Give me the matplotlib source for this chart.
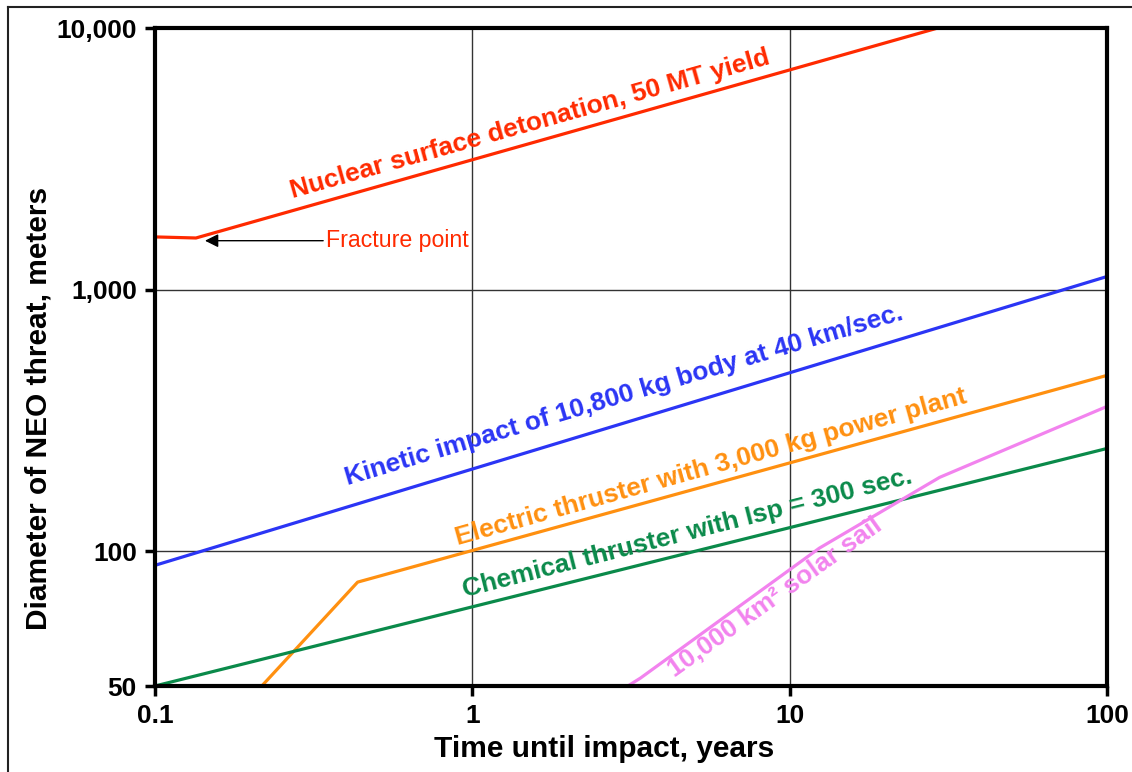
import numpy as np
import matplotlib
matplotlib.use("Agg")
import matplotlib.pyplot as plt
from matplotlib.lines import Line2D

plt.rcParams['font.family'] = ['Liberation Sans', 'DejaVu Sans']

# data (years, meters)
nuc_t = [0.1, 0.1346, 29.3]
nuc_d = [1590, 1575, 10000]
kin_t = [0.1, 100]
kin_d = [93, 1122]
ele_t = [0.217, 0.435, 100]
ele_d = [50, 85.3, 470]
chem_t = [0.1, 100]
chem_d = [50, 247]
sail_t = [3.09, 3.39, 12.4, 29.7, 100]
sail_d = [50, 52.1, 102.7, 191.6, 357.6]

xticks = [0.1, 1, 10, 100]
xtick_labels = ["0.1", "1", "10", "100"]
yticks = [50, 100, 1000, 10000]
ytick_labels = ["50", "100", "1,000", "10,000"]

# the y axis in the original is log above 100 but stretched between 50 and 100
K = (135 / 262) / np.log10(2)


def fwd(y):
    y = np.clip(np.asarray(y, dtype=float), 1e-3, None)
    t = np.log10(y)
    return np.where(t >= 2, t, 2 - (2 - t) * K)


def inv(t):
    t = np.asarray(t, dtype=float)
    return np.where(t >= 2, 10 ** t, 10 ** (2 - (2 - t) / K))


fig = plt.figure(figsize=(11.32, 7.72), dpi=100)
ax = fig.add_axes([155 / 1132, 1 - 686 / 772, 952 / 1132, 658 / 772])

red = '#FF2A00'
blue = '#2B35F5'
orange = '#FF9010'
green = '#0A8A4A'
pink = '#F283EE'

lw = 2.3
ax.plot(nuc_t, nuc_d, color=red, lw=lw, solid_capstyle='butt', zorder=3)
ax.plot(kin_t, kin_d, color=blue, lw=lw, solid_capstyle='butt', zorder=3)
ax.plot(ele_t, ele_d, color=orange, lw=lw, solid_capstyle='butt', zorder=3)
ax.plot(chem_t, chem_d, color=green, lw=lw, solid_capstyle='butt', zorder=3)
ax.plot(sail_t, sail_d, color=pink, lw=lw, solid_capstyle='butt', zorder=3)

ax.set_xscale('log')
ax.set_yscale('function', functions=(fwd, inv))
ax.set_xlim(0.1, 100)
ax.set_ylim(50, 10000)
ax.set_xticks(xticks, xtick_labels)
ax.set_yticks(yticks, ytick_labels)
ax.xaxis.set_minor_locator(matplotlib.ticker.NullLocator())
ax.yaxis.set_minor_locator(matplotlib.ticker.NullLocator())

ax.grid(True, color='#333333', lw=1.0, zorder=1)
for s in ax.spines.values():
    s.set_linewidth(3)
    s.set_zorder(4)
ax.tick_params(length=7, width=2.5, pad=6, labelsize=19)
for lab in ax.get_xticklabels() + ax.get_yticklabels():
    lab.set_fontweight('bold')

ax.set_xlabel("Time until impact, years", fontsize=21.5, fontweight='bold')
ax.xaxis.set_label_coords(0.4716, -0.075)
ax.set_ylabel("Diameter of NEO threat, meters", fontsize=21.5, fontweight='bold')
ax.yaxis.set_label_coords(-0.108, 0.4225)

lab_kw = dict(fontsize=19, fontweight='bold', ha='left', va='baseline',
              rotation_mode='anchor', zorder=5)
ax.text(0.272, 2245, "Nuclear surface detonation, 50 MT yield", color=red,
        rotation=15.7, **lab_kw)
ax.text(0.405, 178, "Kinetic impact of 10,800 kg body at 40 km/sec.", color=blue,
        rotation=16.6, **lab_kw)
ax.text(0.90, 105, "Electric thruster with 3,000 kg power plant", color=orange,
        rotation=15.6, **lab_kw)
ax.text(0.947, 79, "Chemical thruster with Isp = 300 sec.", color=green,
        rotation=14.3, **lab_kw)
ax.text(4.34, 52.1, "10,000 km² solar sail", color=pink,
        rotation=35.5, **lab_kw)

ax.annotate("Fracture point", xy=(0.1437, 1538), xytext=(0.3457, 1538),
            color=red, fontsize=16.7, va='center', ha='left',
            arrowprops=dict(arrowstyle='-|>', color='black', lw=1,
                            mutation_scale=20, shrinkA=0, shrinkB=0))

# frame around the figure (top and left edges visible)
fig.add_artist(Line2D([8 / 1132, 1.0], [1 - 7 / 772, 1 - 7 / 772],
                      color='#222222', lw=1.5, transform=fig.transFigure))
fig.add_artist(Line2D([8 / 1132, 8 / 1132], [0.0, 1 - 7 / 772],
                      color='#222222', lw=1.5, transform=fig.transFigure))

fig.savefig("out.png", dpi=100)
